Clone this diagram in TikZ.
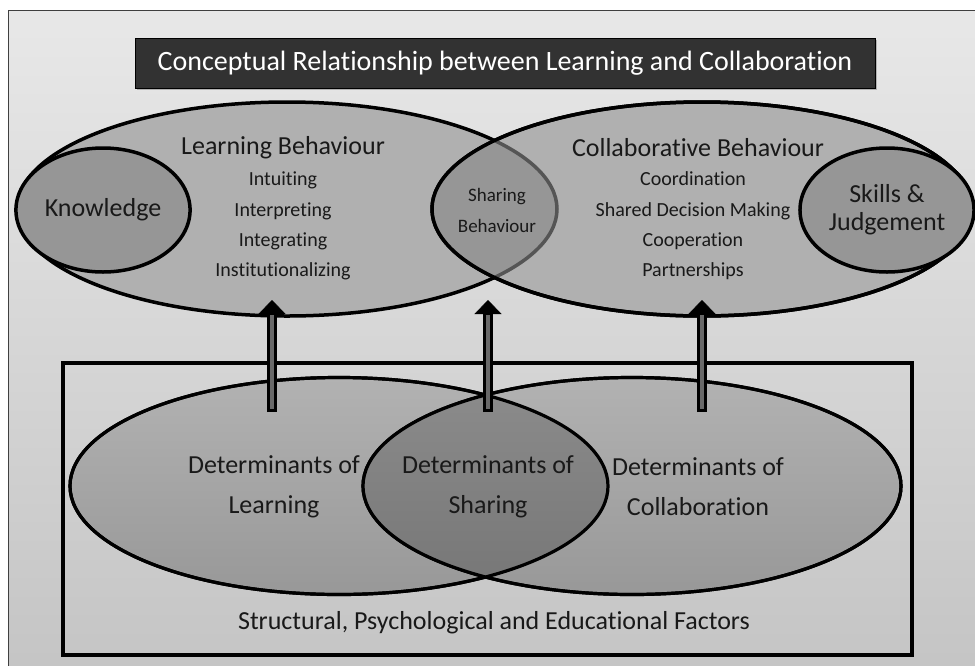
\documentclass[tikz,border=0pt]{standalone}
\usepackage{fontspec}
\setmainfont{Carlito}[Ligatures=NoCommon]
\usetikzlibrary{shapes.geometric,arrows.meta,shadows}

\definecolor{bgtop}{RGB}{232,232,232}
\definecolor{bgbot}{RGB}{196,196,196}
\definecolor{titlefill}{RGB}{50,50,50}
\definecolor{behfill}{RGB}{176,176,176}
\definecolor{corefill}{RGB}{150,150,150}
\definecolor{lensline}{RGB}{85,85,85}
\definecolor{dettop}{RGB}{178,178,178}
\definecolor{detbot}{RGB}{152,152,152}
\definecolor{sharetop}{RGB}{140,140,140}
\definecolor{sharebot}{RGB}{118,118,118}
\definecolor{textgrey}{RGB}{25,25,25}
\definecolor{stemgrey}{RGB}{105,105,105}

\begin{document}
\begin{tikzpicture}[x=1pt, y=-1pt,
    every node/.style={text=textgrey},
    big/.style={ellipse, draw, line width=3.5pt, minimum width=540pt, minimum height=214pt, fill=behfill},
    small/.style={ellipse, draw, line width=3.5pt, minimum width=172pt, minimum height=124pt, fill=corefill},
    det/.style={ellipse, draw, line width=3.2pt, minimum width=538pt, minimum height=217pt, top color=dettop, bottom color=detbot},
    head/.style={font=\fontsize{26}{28}\selectfont, align=center},
    items/.style={font=\fontsize{20}{30.3}\selectfont, align=center},
    stem/.style={line width=10pt, -{Triangle[width=27pt, length=14pt, line width=0.5pt]}},
    stemcore/.style={line width=4pt, stemgrey, shorten <=3pt, shorten >=15pt}]

    \useasboundingbox (0,0) rectangle (975,665);
    \fill[white] (0,0) rectangle (975,665);
    \draw[draw=black!75, line width=1pt, top color=bgtop, bottom color=bgbot] (8,10) rectangle (990,680);

    % titolo
    \node[fill=titlefill, draw=black, minimum width=740pt, minimum height=50pt, text=white,
          font=\fontsize{28}{30}\selectfont, drop shadow] (title) at (505,63)
          {Conceptual Relationship between Learning and Collaboration};

    % comportamenti (sopra)
    \node[big] (lrnbeh) at (287,209) {};
    \node[big] (colbeh) at (702,209) {};
    \begin{scope}
        \clip (702,209) ellipse [x radius=270, y radius=107];
        \fill[corefill] (287,209) ellipse [x radius=270, y radius=107];
        \draw[lensline, line width=3.5pt] (287,209) ellipse [x radius=270, y radius=107];
    \end{scope}
    \draw[line width=3.5pt] (702,209) ellipse [x radius=270, y radius=107];

    \node[small, head] (know) at (103,210) {Knowledge};
    \node[small, head] (skill) at (887,210) {Skills \&\\Judgement};

    \node[head] (lrnhd) at (283,148) {Learning Behaviour};
    \node[items] (lrnlist) at (283,226) {Intuiting\\Interpreting\\Integrating\\Institutionalizing};
    \node[head] (colhd) at (698,148) {Collaborative Behaviour};
    \node[items] (collist) at (693,226) {Coordination\\Shared Decision Making\\Cooperation\\Partnerships};
    \node[items, font=\fontsize{19}{31}\selectfont] (share) at (497,210) {Sharing\\Behaviour};

    % determinanti (sotto)
    \node[draw, line width=3.5pt, minimum width=849pt, minimum height=292pt] (factors) at (487.5,509) {};
    \node[det] (detlrn) at (339,486) {};
    \node[det] (detcol) at (632,486) {};
    \begin{scope}
        \clip (632,486) ellipse [x radius=269, y radius=108.5];
        \fill[top color=sharetop, bottom color=sharebot] (339,486) ellipse [x radius=269, y radius=108.5];
    \end{scope}
    \draw[line width=3.2pt] (339,486) ellipse [x radius=269, y radius=108.5]
                            (632,486) ellipse [x radius=269, y radius=108.5];

    \node[head, font=\fontsize{26}{40}\selectfont] (detlrntxt) at (274,487) {Determinants of\\Learning};
    \node[head, font=\fontsize{26}{40}\selectfont] (detsharetxt) at (488,487) {Determinants of\\Sharing};
    \node[head, font=\fontsize{26}{40}\selectfont] (detcoltxt) at (698,487) {Determinants of\\Collaboration};
    \node[head] (factorstxt) at (494,623) {Structural, Psychological and Educational Factors};

    % frecce
    \coordinate (lrnfoot) at (272,412);
    \coordinate (lrntip) at (272,300);
    \coordinate (sharefoot) at (488,412);
    \coordinate (sharetip) at (488,300);
    \coordinate (colfoot) at (702,412);
    \coordinate (coltip) at (702,300);
    \draw[stem] (lrnfoot) -- (lrntip);
    \draw[stemcore] (lrnfoot) -- (lrntip);
    \draw[stem] (sharefoot) -- (sharetip);
    \draw[stemcore] (sharefoot) -- (sharetip);
    \draw[stem] (colfoot) -- (coltip);
    \draw[stemcore] (colfoot) -- (coltip);
\end{tikzpicture}
\end{document}
